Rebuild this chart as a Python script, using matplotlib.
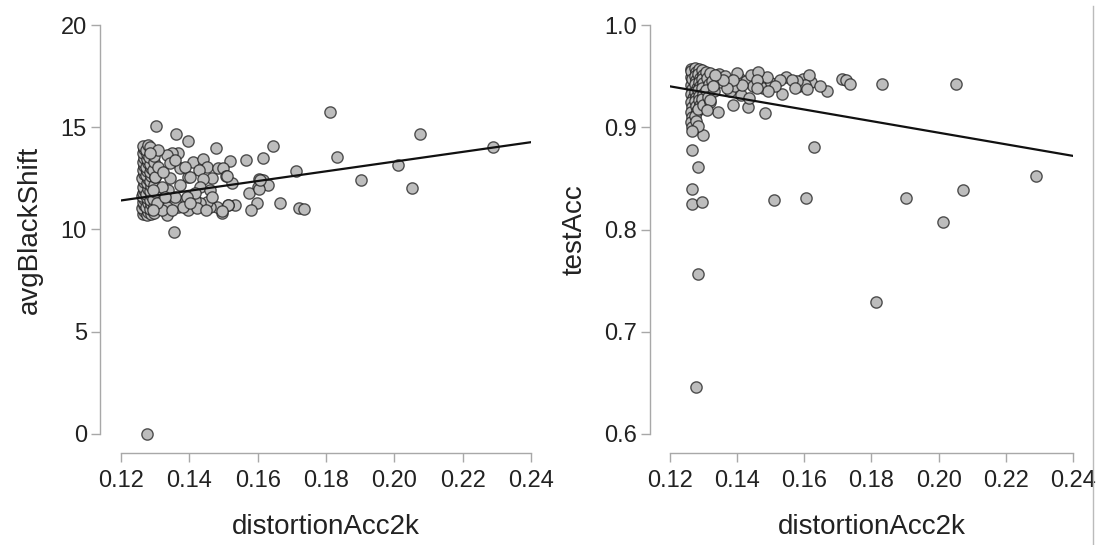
import matplotlib
matplotlib.use("Agg")
import matplotlib.pyplot as plt
from matplotlib.lines import Line2D

plt.rcParams['font.family'] = ['Liberation Sans', 'DejaVu Sans']

# distortionAcc2k vs avgBlackShift (left panel)
shift_x = [
    0.1263, 0.1266, 0.1262, 0.1268, 0.1264, 0.1267, 0.1262, 0.1265, 0.1268, 0.1263,
    0.1266, 0.1262, 0.1267, 0.1264, 0.1266, 0.1263, 0.1267, 0.1264, 0.1266, 0.1263,
    0.1275, 0.1278, 0.1274, 0.1279, 0.1276, 0.1273, 0.1278, 0.1275, 0.1279, 0.1274,
    0.1277, 0.1273, 0.1278, 0.1275, 0.1277, 0.1274, 0.1279,
    0.1287, 0.1285, 0.1289, 0.1284, 0.1288, 0.1286, 0.1289, 0.1285, 0.1288, 0.1284,
    0.1289, 0.1286, 0.1283, 0.1288, 0.1285,
    0.1296, 0.1298, 0.1295, 0.1299, 0.1296, 0.1299, 0.1295, 0.1298, 0.1296,
    0.1302, 0.1360, 0.1397, 0.1812, 0.1831, 0.1478, 0.1646, 0.1566, 0.1616, 0.1519,
    0.1711, 0.1605, 0.1616, 0.1631, 0.1602, 0.1575, 0.1599, 0.1580, 0.1666, 0.1722,
    0.1736, 0.1355, 0.1534, 0.1514, 0.1495, 0.1480, 0.1460, 0.1451, 0.1431, 0.1417,
    0.1397, 0.1387, 0.1368, 0.1358, 0.1334, 0.1334, 0.1319, 0.1304, 0.1295, 0.1412,
    0.1439, 0.1451, 0.1429, 0.1485, 0.1498, 0.1507, 0.1524, 0.1465, 0.1441, 0.1431,
    0.1460, 0.1465, 0.1417, 0.1392, 0.1397, 0.1373, 0.1368, 0.1348, 0.1334, 0.1309,
    0.1285, 0.1373, 0.1343, 0.1338, 0.1319, 0.1300, 0.1295, 0.1309, 0.1324, 0.1343,
    0.1358, 0.1387, 0.1402, 0.1358, 0.1329, 0.1382, 0.1421, 0.1449, 0.1402, 0.1348,
    0.1509, 0.1605, 0.1607, 0.1514, 0.1495,
    0.2075, 0.2290, 0.2012, 0.1902, 0.2053, 0.1276,
]
shift_y = [
    10.75, 10.90, 11.05, 11.20, 11.35, 11.50, 11.65, 11.80, 11.95, 12.10,
    12.30, 12.50, 12.70, 12.90, 13.10, 13.30, 13.50, 13.75, 13.95, 14.10,
    10.70, 10.85, 11.10, 11.30, 11.55, 11.75, 12.00, 12.25, 12.45, 12.65,
    12.85, 13.05, 13.25, 13.45, 13.70, 13.90, 14.15,
    10.75, 11.00, 11.25, 11.45, 11.70, 11.90, 12.15, 12.35, 12.60, 12.80,
    13.00, 13.20, 13.55, 13.85, 14.05,
    10.80, 11.15, 11.50, 11.85, 12.20, 12.55, 12.90, 13.30, 13.60,
    15.08, 14.68, 14.31, 15.76, 13.56, 13.97, 14.07, 13.38, 13.48, 13.35,
    12.88, 12.47, 12.42, 12.18, 12.06, 11.77, 11.28, 10.95, 11.28, 11.04,
    10.99, 9.86, 11.20, 11.20, 10.82, 11.12, 11.12, 11.36, 11.28, 11.44,
    10.95, 11.44, 11.12, 11.36, 11.12, 10.71, 10.95, 11.28, 10.95, 13.32,
    13.43, 13.08, 12.91, 12.99, 12.99, 12.62, 12.29, 12.50, 12.47, 12.09,
    11.93, 11.61, 11.77, 11.61, 12.59, 12.99, 13.72, 13.72, 13.64, 13.89,
    13.72, 12.18, 12.50, 11.93, 12.09, 12.59, 11.93, 13.08, 12.83, 13.24,
    13.40, 13.08, 12.59, 11.61, 11.61, 11.12, 11.04, 10.95, 11.28, 10.95,
    12.62, 12.00, 12.42, 11.18, 10.89,
    14.67, 14.05, 13.15, 12.42, 12.01, 0.0,
]

# distortionAcc2k vs testAcc (right panel)
acc_x = [
    0.1262, 0.1266, 0.1263, 0.1267, 0.1262, 0.1265, 0.1263, 0.1267, 0.1262, 0.1265,
    0.1263, 0.1266, 0.1262, 0.1265, 0.1263, 0.1266,
    0.1275, 0.1278, 0.1273, 0.1277, 0.1274, 0.1279, 0.1275, 0.1278, 0.1273, 0.1276,
    0.1279, 0.1274, 0.1277,
    0.1287, 0.1284, 0.1289, 0.1285, 0.1288, 0.1283, 0.1287, 0.1285, 0.1289, 0.1284,
    0.1296, 0.1299, 0.1295, 0.1298, 0.1296, 0.1299, 0.1295, 0.1298,
    0.1306, 0.1310, 0.1315, 0.1308, 0.1312, 0.1320, 0.1325, 0.1330, 0.1318,
    0.1345, 0.1352, 0.1365, 0.1375, 0.1380, 0.1395, 0.1405, 0.1412, 0.1425, 0.1442,
    0.1448, 0.1470, 0.1478, 0.1500, 0.1545, 0.1585, 0.1595, 0.1620,
    0.1830, 0.1711, 0.1724, 0.1736, 0.1667, 0.1647, 0.1615, 0.1602, 0.1607, 0.1577,
    0.1562, 0.1572, 0.1533, 0.1528, 0.1513, 0.1493, 0.1483, 0.1488, 0.1463, 0.1458,
    0.1458, 0.1433, 0.1436, 0.1414, 0.1399, 0.1389, 0.1389, 0.1369, 0.1359, 0.1344,
    0.1334, 0.1329, 0.1319, 0.1309, 0.1299, 0.1284, 0.1265, 0.1265, 0.1282, 0.1265,
    0.1630, 0.1265, 0.1294, 0.1511, 0.1604, 0.1902, 0.1282, 0.1813, 0.1277, 0.2013,
    0.2073, 0.2290, 0.2053,
]
acc_y = [
    0.957, 0.953, 0.949, 0.945, 0.941, 0.937, 0.933, 0.929, 0.925, 0.920,
    0.915, 0.910, 0.905, 0.900, 0.955, 0.947,
    0.958, 0.954, 0.950, 0.946, 0.942, 0.938, 0.934, 0.930, 0.926, 0.921,
    0.916, 0.911, 0.906,
    0.957, 0.952, 0.948, 0.944, 0.940, 0.936, 0.931, 0.927, 0.922, 0.918,
    0.956, 0.951, 0.947, 0.943, 0.938, 0.933, 0.928, 0.922,
    0.954, 0.948, 0.942, 0.936, 0.930, 0.953, 0.945, 0.935, 0.925,
    0.952, 0.944, 0.950, 0.943, 0.935, 0.940, 0.948, 0.932, 0.945, 0.951,
    0.940, 0.947, 0.938, 0.943, 0.949, 0.940, 0.947, 0.944,
    0.942, 0.947, 0.946, 0.942, 0.935, 0.940, 0.951, 0.941, 0.937, 0.945,
    0.946, 0.938, 0.933, 0.946, 0.940, 0.935, 0.914, 0.949, 0.954, 0.946,
    0.938, 0.920, 0.929, 0.941, 0.953, 0.922, 0.946, 0.938, 0.946, 0.915,
    0.951, 0.940, 0.927, 0.917, 0.892, 0.901, 0.896, 0.878, 0.861, 0.840,
    0.881, 0.825, 0.827, 0.829, 0.831, 0.831, 0.756, 0.729, 0.646, 0.807,
    0.839, 0.852, 0.942,
]

# regression lines, values at x = 0.12 and x = 0.24
fit_x = [0.12, 0.24]
shift_fit = [11.42, 14.27]
acc_fit = [0.940, 0.872]

x_ticks = [0.12, 0.14, 0.16, 0.18, 0.20, 0.22, 0.24]
x_labels = ['0.12', '0.14', '0.16', '0.18', '0.20', '0.22', '0.24']
shift_ticks = [0, 5, 10, 15, 20]
shift_labels = ['0', '5', '10', '15', '20']
acc_ticks = [0.6, 0.7, 0.8, 0.9, 1.0]
acc_labels = ['0.6', '0.7', '0.8', '0.9', '1.0']


def draw(ax, xs, ys, fit, yticks, ylabels, ylabel, ylab_x, yoff):
    ax.scatter(xs, ys, s=66, facecolor='#bdbdbd', edgecolor=(0.12, 0.12, 0.12, 0.75),
               linewidth=1.0, zorder=3, clip_on=False)
    ax.plot(fit_x, fit, color='#111111', lw=1.6, zorder=4)
    ax.set_xlim(x_ticks[0], x_ticks[-1])
    ax.set_ylim(yticks[0], yticks[-1])
    ax.set_xticks(x_ticks)
    ax.set_xticklabels(x_labels)
    ax.set_yticks(yticks)
    ax.set_yticklabels(ylabels)
    for s in ['top', 'right']:
        ax.spines[s].set_visible(False)
    ax.spines['left'].set_position(('outward', yoff))
    ax.spines['bottom'].set_position(('outward', 13.7))
    ax.spines['left'].set_bounds(yticks[0], yticks[-1])
    ax.spines['bottom'].set_bounds(x_ticks[0], x_ticks[-1])
    for s in ['left', 'bottom']:
        ax.spines[s].set_color('#a8a8a8')
        ax.spines[s].set_linewidth(1.0)
    ax.tick_params(length=6.5, width=1.0, color='#a8a8a8', labelsize=17,
                   labelcolor='#222222')
    ax.tick_params(axis='x', pad=6)
    ax.tick_params(axis='y', pad=3)
    ax.set_xlabel('distortionAcc2k', fontsize=20, color='#222222')
    ax.xaxis.label.set_va('center')
    ax.xaxis.set_label_coords(0.5, -0.227)
    ax.set_ylabel(ylabel, fontsize=20, color='#222222')
    ax.yaxis.label.set_va('center')
    ax.yaxis.set_label_coords(ylab_x, 0.5)


fig = plt.figure(figsize=(10.96, 5.45), dpi=100)
ax1 = fig.add_axes([121 / 1096, 1 - 434 / 545, 410 / 1096, 409 / 545])
ax2 = fig.add_axes([670 / 1096, 1 - 434 / 545, 403 / 1096, 409 / 545])

draw(ax1, shift_x, shift_y, shift_fit, shift_ticks, shift_labels, 'avgBlackShift', -0.222, 15.1)
draw(ax2, acc_x, acc_y, acc_fit, acc_ticks, acc_labels, 'testAcc', -0.236, 14.4)

fig.add_artist(Line2D([1093 / 1096, 1093 / 1096], [0, 1 - 6 / 545], color='#bbbbbb', lw=1.0))

fig.savefig('out.png', dpi=100)
